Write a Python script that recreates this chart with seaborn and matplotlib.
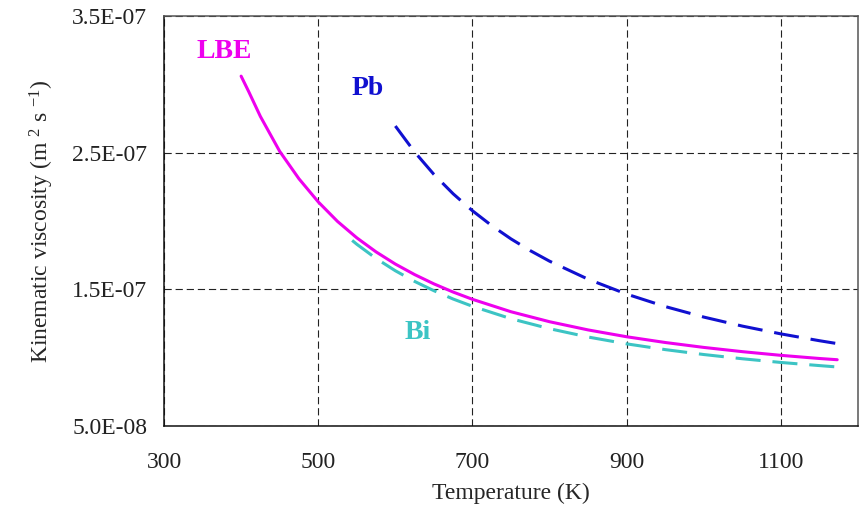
import matplotlib
matplotlib.use('Agg')

import pandas as pd
import matplotlib.pyplot as plt
import seaborn as sns

# values (K, m2/s)
lbe_T = [400, 410, 425, 450, 475, 500, 525, 550, 575, 600, 625, 650, 675, 700, 750, 800, 850,
         900, 950, 1000, 1050, 1100, 1150, 1173]
lbe_nu = [3.06e-7, 2.945e-7, 2.765e-7, 2.51e-7, 2.309e-7, 2.14e-7, 1.997e-7, 1.877e-7, 1.774e-7,
          1.685e-7, 1.608e-7, 1.540e-7, 1.480e-7, 1.427e-7, 1.336e-7, 1.263e-7, 1.203e-7,
          1.153e-7, 1.111e-7, 1.075e-7, 1.044e-7, 1.017e-7, 0.994e-7, 0.985e-7]

pb_T = [600, 625, 650, 675, 700, 725, 750, 775, 800, 850, 900, 950, 1000, 1050, 1100, 1150, 1173]
pb_nu = [2.695e-7, 2.505e-7, 2.341e-7, 2.199e-7, 2.075e-7, 1.966e-7, 1.869e-7, 1.783e-7,
         1.706e-7, 1.574e-7, 1.465e-7, 1.374e-7, 1.297e-7, 1.231e-7, 1.174e-7, 1.124e-7, 1.103e-7]

bi_T = [544, 550, 575, 600, 625, 650, 675, 700, 750, 800, 850, 900, 950, 1000, 1050, 1100,
        1150, 1173]
bi_nu = [1.858e-7, 1.830e-7, 1.726e-7, 1.636e-7, 1.558e-7, 1.490e-7, 1.429e-7, 1.376e-7,
         1.285e-7, 1.212e-7, 1.151e-7, 1.101e-7, 1.059e-7, 1.023e-7, 0.992e-7, 0.965e-7,
         0.942e-7, 0.932e-7]

x_ticks = [300, 500, 700, 900, 1100]
y_ticks = [5.0e-8, 1.5e-7, 2.5e-7, 3.5e-7]
y_tick_labels = ['5.0E-08', '1.5E-07', '2.5E-07', '3.5E-07']

series = [
    ('LBE', lbe_T, lbe_nu, '#EE00EE', '-', (378, 3.237e-7)),
    ('Pb', pb_T, pb_nu, '#1010D0', (0, (8.2, 3.9)), (564, 2.973e-7)),
    ('Bi', bi_T, bi_nu, '#3CC4C4', (0, (8.2, 3.9)), (629, 1.181e-7)),
]

sns.set_style('white')
plt.rcParams['font.family'] = ['Liberation Serif', 'DejaVu Serif']
plt.rcParams['mathtext.default'] = 'regular'

fig = plt.figure(figsize=(8.6, 5.18), dpi=100)
ax = fig.add_axes([0.1907, 0.1776, 0.8070, 0.7915])

for name, T, nu, col, ls, pos in series:
    df = pd.DataFrame({'T': T, 'nu': nu})
    sns.lineplot(data=df, x='T', y='nu', ax=ax, color=col, linewidth=2.2,
                 linestyle=ls, errorbar=None)
    ax.text(pos[0], pos[1], name, color=col, fontsize=20, fontweight='bold',
            ha='center', va='center')

ax.set_xlim(300, 1200)
ax.set_ylim(5.0e-8, 3.5e-7)
ax.set_xticks(x_ticks)
ax.set_xticklabels([str(t) for t in x_ticks])
ax.set_yticks(y_ticks)
ax.set_yticklabels(y_tick_labels)
ax.tick_params(axis='both', labelsize=17, colors='#222222', direction='out', length=5, width=1)
ax.tick_params(axis='x', pad=14)
ax.tick_params(axis='y', pad=7)

ax.grid(True, color='#222222', linestyle=(0, (6.5, 3.5)), linewidth=0.8)
for s in ['left', 'bottom']:
    ax.spines[s].set_color('#111111')
    ax.spines[s].set_linewidth(1.1)
for s in ['top', 'right']:
    ax.spines[s].set_color('#555555')
    ax.spines[s].set_linewidth(1.1)

ax.set_xlabel('Temperature (K)', fontsize=17, labelpad=7)
ax.set_ylabel('Kinematic viscosity (m $^{2}$ s $^{-1}$)', fontsize=17, labelpad=12)

fig.savefig('out.png', dpi=100)
